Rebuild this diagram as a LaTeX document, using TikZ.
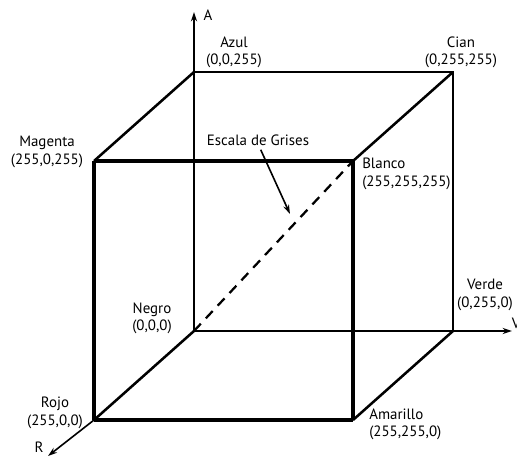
\documentclass[tikz,border=0pt]{standalone}
\usepackage{fontspec}
\setmainfont{PT Sans}
\usetikzlibrary{arrows.meta}
\begin{document}
\begin{tikzpicture}[x=0.75pt,y=-0.75pt,
  lbl/.style={inner sep=0pt,font=\fontsize{11.2}{13}\selectfont,align=center},
  lbll/.style={lbl,anchor=west,align=left},
  front/.style={line width=2.4pt},
  frontv/.style={line width=2.8pt},
  back/.style={line width=1.9pt},
  axis/.style={line width=1.2pt,-{Stealth[length=7pt,width=4.5pt]}},
  gray/.style={line width=1.7pt,dash pattern=on 7.5pt off 5.5pt},
  pointer/.style={line width=1.2pt,-{Stealth[length=7pt,width=4.5pt]}}]
\useasboundingbox (0,0) rectangle (517,457);
% corners
\coordinate (N) at (194,331);
\coordinate (B) at (194,72);
\coordinate (C) at (453,72);
\coordinate (G) at (453,331);
\coordinate (M) at (94,161);
\coordinate (W) at (353,161);
\coordinate (R) at (94,420);
\coordinate (Y) at (353,420);
\coordinate (Atip) at (194,12);
\coordinate (Vtip) at (512,331);
\coordinate (Rtip) at (48,456);
% back edges
\draw[back] (N) -- (B);
\draw[back] (N) -- (G);
\draw[back] (B) -- (C) -- (G);
% diagonals
\draw[back] (B) -- (M);
\draw[back] (C) -- (W);
\draw[back] (G) -- (Y);
\draw[back] (N) -- (R);
% front face
\draw[front] (M) -- (W);
\draw[front] (R) -- (Y);
\draw[frontv] (M) -- (R);
\draw[frontv] (W) -- (Y);
% axes
\draw[axis] (B) -- (Atip);
\draw[axis] (G) -- (Vtip);
\draw[axis] (R) -- (Rtip);
% gray scale diagonal
\draw[gray] (N) -- (W);
% labels
\node[lbl] (lA) at (208,15) {A};
\node[lbl] (lV) at (516,323) {V};
\node[lbl] (lR) at (39,447) {R};
\node[lbl] (lAzul) at (234,52) {Azul\\(0,0,255)};
\node[lbl] (lCian) at (461,52) {Cian\\(0,255,255)};
\node[lbl] (lMag) at (47,152) {Magenta\\(255,0,255)};
\node[lbl] (lBla) at (362,174) [lbll] {Blanco\\(255,255,255)};
\node[lbl] (lNeg) at (152,318) {Negro\\(0,0,0)};
\node[lbl] (lVer) at (485,295) {Verde\\(0,255,0)};
\node[lbl] (lRojo) at (55,413) {Rojo\\(255,0,0)};
\node[lbl] (lAma) at (369,424) [lbll] {Amarillo\\(255,255,0)};
\node[lbl] (lEsc) at (258,140) {Escala de Grises};
\coordinate (Etip) at (290,214);
\draw[pointer] ([xshift=2pt,yshift=-3pt]lEsc.south) -- (Etip);
\end{tikzpicture}
\end{document}
